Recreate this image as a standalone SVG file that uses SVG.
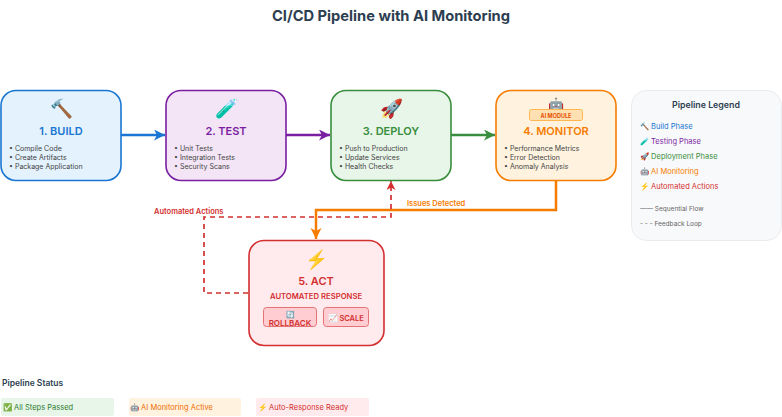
<svg xmlns="http://www.w3.org/2000/svg" width="782" height="417" viewBox="0 0 782 417">
<style>
text{font-family:Inter,"Liberation Sans",Arial,sans-serif}
.n{stroke-width:1.600}
.e{text-anchor:middle;font-size:18.500px}
.h{text-anchor:middle;font-size:11px;font-weight:600}
.b{font-size:7px;fill:#444}
.lg{font-size:7.500px}
.st{font-size:7.500px}
</style>
<defs>
<marker id="mb" markerWidth="12" markerHeight="12" refX="11" refY="5.500" orient="auto" markerUnits="userSpaceOnUse"><path d="M0 0L11 5.500L0 11L3 5.500Z" fill="#1976d2"/></marker>
<marker id="mp" markerWidth="12" markerHeight="12" refX="11" refY="5.500" orient="auto" markerUnits="userSpaceOnUse"><path d="M0 0L11 5.500L0 11L3 5.500Z" fill="#7b1fa2"/></marker>
<marker id="mg" markerWidth="12" markerHeight="12" refX="11" refY="5.500" orient="auto" markerUnits="userSpaceOnUse"><path d="M0 0L11 5.500L0 11L3 5.500Z" fill="#388e3c"/></marker>
<marker id="mo" markerWidth="12" markerHeight="12" refX="11" refY="5.500" orient="auto" markerUnits="userSpaceOnUse"><path d="M0 0L11 5.500L0 11L3 5.500Z" fill="#f57c00"/></marker>
<marker id="mr" markerWidth="10" markerHeight="10" refX="9" refY="4.500" orient="auto" markerUnits="userSpaceOnUse"><path d="M0 0L9 4.500L0 9L2.500 4.500Z" fill="#d32f2f"/></marker>
</defs>
<text x="391" y="21" text-anchor="middle" font-size="14.700" font-weight="700" fill="#2c3e50">CI/CD Pipeline with AI Monitoring</text>
<g id="connectors" fill="none">
<path d="M121 135H165" stroke="#1976d2" stroke-width="2.500" marker-end="url(#mb)"/>
<path d="M286 135H330" stroke="#7b1fa2" stroke-width="2.500" marker-end="url(#mp)"/>
<path d="M451 135H495" stroke="#388e3c" stroke-width="2.500" marker-end="url(#mg)"/>
<path d="M556 180V210H316V239" stroke="#f57c00" stroke-width="2.500" marker-end="url(#mo)"/>
<path d="M248 293H204V217H391V181" stroke="#d32f2f" stroke-width="1.700" stroke-dasharray="5 4" marker-end="url(#mr)"/>
<text x="407" y="206" font-size="7.500" font-weight="600" fill="#f57c00">Issues Detected</text>
<text x="154" y="214" font-size="7.500" font-weight="600" fill="#d32f2f">Automated Actions</text>
</g>
<g id="build">
<rect class="n" x="1" y="90.500" width="120" height="90" rx="15" fill="#e3f2fd" stroke="#1976d2"/>
<text class="e" x="61" y="115">🔨</text>
<text class="h" x="61" y="135" fill="#1976d2">1. BUILD</text>
<text class="b" x="9" y="151">• Compile Code</text><text class="b" x="9" y="160">• Create Artifacts</text><text class="b" x="9" y="169">• Package Application</text>
</g>
<g id="test">
<rect class="n" x="166" y="90.500" width="120" height="90" rx="15" fill="#f3e5f5" stroke="#7b1fa2"/>
<text class="e" x="226" y="115">🧪</text>
<text class="h" x="226" y="135" fill="#7b1fa2">2. TEST</text>
<text class="b" x="174" y="151">• Unit Tests</text><text class="b" x="174" y="160">• Integration Tests</text><text class="b" x="174" y="169">• Security Scans</text>
</g>
<g id="deploy">
<rect class="n" x="331" y="90.500" width="120" height="90" rx="15" fill="#e8f5e9" stroke="#388e3c"/>
<text class="e" x="391" y="115">🚀</text>
<text class="h" x="391" y="135" fill="#388e3c">3. DEPLOY</text>
<text class="b" x="339" y="151">• Push to Production</text><text class="b" x="339" y="160">• Update Services</text><text class="b" x="339" y="169">• Health Checks</text>
</g>
<g id="monitor">
<rect class="n" x="496" y="90.500" width="120" height="90" rx="15" fill="#fff3e0" stroke="#f57c00"/>
<text x="556" y="109" text-anchor="middle" font-size="13">🤖</text>
<rect x="529.500" y="109.500" width="53" height="11" rx="2" fill="#ffe0b2" stroke="#ffb74d"/>
<text x="556" y="117.500" text-anchor="middle" font-size="5.500" font-weight="700" fill="#e65100">AI MODULE</text>
<text class="h" x="556" y="135" fill="#f57c00">4. MONITOR</text>
<text class="b" x="504" y="151">• Performance Metrics</text><text class="b" x="504" y="160">• Error Detection</text><text class="b" x="504" y="169">• Anomaly Analysis</text>
</g>
<g id="act">
<rect class="n" x="249" y="240.500" width="135" height="105" rx="15" fill="#ffebee" stroke="#d32f2f"/>
<text class="e" x="316" y="265.500">⚡</text>
<text class="h" x="316" y="285" fill="#d32f2f">5. ACT</text>
<text x="316" y="298.500" text-anchor="middle" font-size="7.700" font-weight="600" fill="#d32f2f">AUTOMATED RESPONSE</text>
<rect x="263.500" y="307.500" width="53" height="19" rx="3" fill="#ffcdd2" stroke="#e57373"/>
<text x="290" y="317" text-anchor="middle" font-size="7">🔄</text>
<text x="290" y="326" text-anchor="middle" font-size="8" font-weight="600" fill="#d32f2f">ROLLBACK</text>
<rect x="323.500" y="307.500" width="45" height="19" rx="3" fill="#ffcdd2" stroke="#e57373"/>
<text x="327.500" y="320.500" font-size="7.500" font-weight="600" fill="#d32f2f"><tspan font-size="8">📈</tspan> SCALE</text>
</g>
<g id="legend">
<rect x="631.500" y="90.500" width="150" height="150" rx="15" fill="#f8f9fa" stroke="#e9ecef"/>
<text x="706" y="108" text-anchor="middle" font-size="8.800" font-weight="600" fill="#2c3e50">Pipeline Legend</text>
<text class="lg" x="640" y="129" fill="#1976d2">🔨 Build Phase</text>
<text class="lg" x="640" y="144" fill="#7b1fa2">🧪 Testing Phase</text>
<text class="lg" x="640" y="159" fill="#388e3c">🚀 Deployment Phase</text>
<text class="lg" x="640" y="174" fill="#f57c00">🤖 AI Monitoring</text>
<text class="lg" x="640" y="189" fill="#d32f2f">⚡ Automated Actions</text>
<text x="640" y="211" font-size="6.500" fill="#666">—— Sequential Flow</text>
<text x="640" y="226" font-size="6.500" fill="#666">- - - Feedback Loop</text>
</g>
<g id="status">
<text x="2" y="386" font-size="8.500" font-weight="600" fill="#2c3e50">Pipeline Status</text>
<rect x="1" y="398" width="113" height="18" rx="2" fill="#e8f5e9"/>
<text class="st" x="3" y="410" fill="#2e7d32">✅ All Steps Passed</text>
<rect x="129" y="398" width="112" height="18" rx="2" fill="#fff3e0"/>
<text class="st" x="130" y="410" fill="#ef6c00">🤖 AI Monitoring Active</text>
<rect x="256" y="398" width="113" height="18" rx="2" fill="#ffebee"/>
<text class="st" x="258" y="410" fill="#d32f2f">⚡ Auto-Response Ready</text>
</g>
</svg>
